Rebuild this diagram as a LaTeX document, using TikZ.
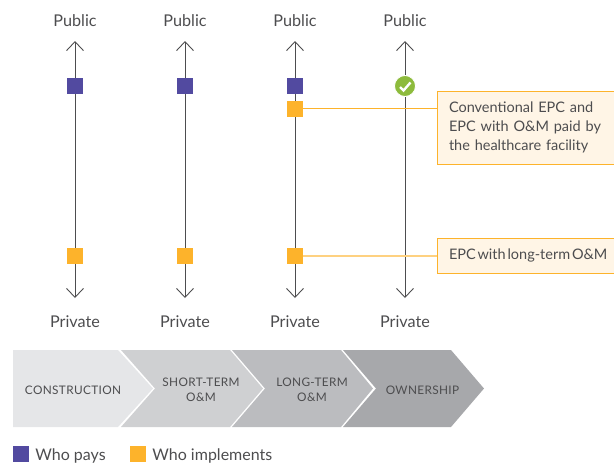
\documentclass[tikz,border=0pt]{standalone}
\usepackage{fontspec}
\setmainfont{Lato}
\usetikzlibrary{arrows.meta,positioning}

\definecolor{axisgrey}{HTML}{4D4D4F}
\definecolor{paypurple}{HTML}{524AA0}
\definecolor{doorange}{HTML}{FDB32B}
\definecolor{calloutfill}{HTML}{FFF5E6}
\definecolor{checkgreen}{HTML}{8DBB3C}
\definecolor{phaseone}{HTML}{E5E6E8}
\definecolor{phasetwo}{HTML}{CFD0D2}
\definecolor{phasethree}{HTML}{BBBCBF}
\definecolor{phasefour}{HTML}{A7A8AB}

\tikzset{
    axisline/.style={draw=axisgrey,line width=0.9pt,{Straight Barb[length=9pt,width=17pt,line width=0.9pt]}-{Straight Barb[length=9pt,width=17pt,line width=0.9pt]}},
    endlabel/.style={text=axisgrey,font=\fontsize{16.2}{18}\selectfont},
    paysquare/.style={fill=paypurple,minimum size=16pt,inner sep=0pt},
    dosquare/.style={fill=doorange,minimum size=16pt,inner sep=0pt},
    callout/.style={draw=doorange,fill=calloutfill,line width=1pt,text=axisgrey,align=left,anchor=west,
        inner xsep=11.5pt,inner ysep=0pt,text width=170pt,font=\fontsize{14.5}{19}\selectfont},
    phasetext/.style={text=axisgrey,align=center,font=\fontsize{11.8}{14.5}\selectfont\addfontfeature{LetterSpace=3}},
    legendtext/.style={text=axisgrey,anchor=west,inner sep=0pt,yshift=-2pt,font=\fontsize{16}{18}\selectfont}
}

\begin{document}
\begin{tikzpicture}[x=1pt,y=-1pt]
    \useasboundingbox (0,0) rectangle (614,464);

    % Axes
    \foreach \n/\xa in {1/75,2/185,3/295,4/405} {
        \node[endlabel] (pub\n) at (\xa,20.5) {Public};
        \node[endlabel] (priv\n) at (\xa,322) {Private};
        \coordinate (top\n) at (\xa,41);
        \coordinate (bot\n) at (\xa,298);
        \draw[axisline] (bot\n) -- (top\n);
    }

    % Callouts
    \node[callout,minimum height=73pt] (conv) at (437,127.5)
        {Conventional EPC and\\EPC with O\&M paid by\\the healthcare facility};
    \node[callout,minimum height=35pt] (ltom) at (437,255.5)
        {\spaceskip=1.8pt\relax EPC with long-term O\&M};

    % Squares
    \foreach \n/\xa in {1/75,2/185,3/295} {
        \node[paysquare] (pay\n) at (\xa,86) {};
        \node[dosquare] (do\n) at (\xa,256) {};
    }
    \node[dosquare] (doup) at (295,108.5) {};
    \draw[doorange,line width=1pt] (doup.east) -- (doup.east -| conv.west);
    \draw[doorange!60,line width=1.4pt] (do3.east) -- (do3.east -| ltom.west);

    % Ownership tick
    \node[circle,fill=checkgreen,draw=white,line width=0.8pt,minimum size=21pt,inner sep=0pt] (tick) at (405,86) {};
    \draw[white,line width=2.4pt] ([shift={(-5,1)}]tick.center) -- ([shift={(-1.5,4.5)}]tick.center) -- ([shift={(5.5,-3.5)}]tick.center);

    % Phases
    \fill[phaseone] (13,350) -- (118,350) -- (153,388.5) -- (118,427) -- (13,427) -- cycle;
    \fill[phasetwo] (121,350) -- (230,350) -- (263,388.5) -- (230,427) -- (121,427) -- (155,388.5) -- cycle;
    \fill[phasethree] (232,350) -- (341,350) -- (373,388.5) -- (341,427) -- (232,427) -- (265,388.5) -- cycle;
    \fill[phasefour] (343,350) -- (451,350) -- (484,388.5) -- (451,427) -- (343,427) -- (376,388.5) -- cycle;
    \node[phasetext] (constr) at (73,390) {CONSTRUCTION};
    \node[phasetext] (short) at (201,390) {SHORT-TERM\\O\&M};
    \node[phasetext] (long) at (312,390) {LONG-TERM\\O\&M};
    \node[phasetext] (own) at (422.5,390) {OWNERSHIP};

    % Legend
    \node[paysquare] (keypay) at (21,454) {};
    \node[legendtext,right=6pt of keypay] (keypaytext) {Who pays};
    \node[dosquare] (keydo) at (138,454) {};
    \node[legendtext,right=6pt of keydo] (keydotext) {Who implements};
\end{tikzpicture}
\end{document}
